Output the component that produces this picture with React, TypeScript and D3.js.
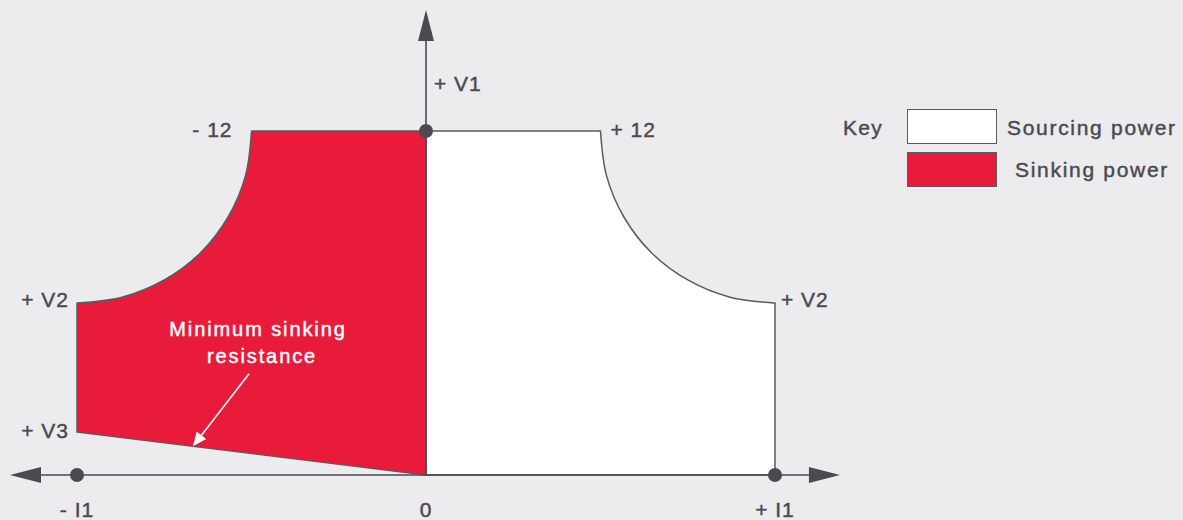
import React, { useEffect } from "react";
import * as d3 from "d3";

// Data (current normalised to I1 = 1, voltage normalised to V1 = 1)
const currentTicks = [
  { label: "- I1", value: -1 },
  { label: "0", value: 0 },
  { label: "+ I1", value: 1 },
];
const V1 = 1.0;
const V2 = 0.5;
const V3 = 0.125;
const cornerCurrent = 0.5; // the "12" corner
// constant-power boundary (|I|, V)
const powerCurveI = [0.5, 0.517, 0.567, 0.646, 0.75, 0.871, 1.0];
const powerCurveV = [1.0, 0.871, 0.75, 0.646, 0.567, 0.517, 0.5];
const legendItems = [
  { label: "Sourcing power", fill: "#ffffff" },
  { label: "Sinking power", fill: "#E81B3A" },
];

const W = 1183;
const H = 520;
const BG = "#ECECEE";
const INK = "#4B4A50";
const RED = "#E81B3A";
const FONT = "'Liberation Sans', Arial, Helvetica, sans-serif";

export default function App() {
  useEffect(() => {
    document.body.style.margin = "0";
    document.body.style.background = BG;
  }, []);

  const x = d3.scaleLinear().domain([-1, 1]).range([77, 775]);
  const y = d3.scaleLinear().domain([0, 1]).range([475, 131]);

  const line = d3.line<[number, number]>().x((d) => x(d[0])).y((d) => y(d[1]));
  const curveLine = d3
    .line<[number, number]>()
    .x((d) => x(d[0]))
    .y((d) => y(d[1]))
    .curve(d3.curveCatmullRom.alpha(0.5));

  const rightCurve: [number, number][] = powerCurveI.map((c, i) => [c, powerCurveV[i]]);
  const leftCurve: [number, number][] = powerCurveI.map((c, i) => [-c, powerCurveV[i]]);

  const sourcingPath =
    line([[0, 0], [0, V1], [cornerCurrent, V1]])! +
    curveLine(rightCurve)!.replace(/^M/, "L") +
    line([[1, V2], [1, 0]])!.replace(/^M/, "L") +
    "Z";
  const sinkingPath =
    line([[0, 0], [0, V1], [-cornerCurrent, V1]])! +
    curveLine(leftCurve)!.replace(/^M/, "L") +
    line([[-1, V2], [-1, V3]])!.replace(/^M/, "L") +
    "Z";

  // axes extents (data units)
  const xMin = -1.192;
  const xMax = 1.186;
  const yMax = 1.352;
  const arrowLen = 31;
  const arrowHalf = 8;

  // annotation arrow
  const annFrom: [number, number] = [-0.507, 0.294];
  const annTo: [number, number] = [-0.668, V3 * 0.668];
  const ax0 = x(annFrom[0]), ay0 = y(annFrom[1]);
  const ax1 = x(annTo[0]), ay1 = y(annTo[1]);
  const ang = Math.atan2(ay1 - ay0, ax1 - ax0);
  const hl = 14, hw = 6;
  const bx = ax1 - hl * Math.cos(ang), by = ay1 - hl * Math.sin(ang);
  const head = [
    [ax1, ay1],
    [bx + hw * Math.sin(ang), by - hw * Math.cos(ang)],
    [bx - hw * Math.sin(ang), by + hw * Math.cos(ang)],
  ];

  const textStyle = {
    fontFamily: FONT,
    fontSize: 21,
    fill: INK,
    stroke: INK,
    strokeWidth: 0.45,
    letterSpacing: 1,
  };
  const whiteText = { ...textStyle, fill: "#ffffff", stroke: "#ffffff", fontSize: 20, letterSpacing: 1.9 };

  return (
    <svg width={W} height={H} style={{ display: "block", background: BG }}>
      <rect x={0} y={0} width={W} height={H} fill={BG} />
      <path d={sinkingPath} fill={RED} stroke="#5A5A60" strokeWidth={1.5} strokeLinejoin="round" />
      <path d={sourcingPath} fill="#ffffff" stroke="#5A5A60" strokeWidth={1.5} strokeLinejoin="round" />

      {/* x axis */}
      <line x1={x(xMin) + arrowLen} x2={x(xMax) - arrowLen} y1={y(0)} y2={y(0)} stroke={INK} strokeWidth={1.6} />
      <path
        d={`M${x(xMin)},${y(0)}L${x(xMin) + arrowLen},${y(0) - arrowHalf}L${x(xMin) + arrowLen},${y(0) + arrowHalf}Z`}
        fill={INK}
      />
      <path
        d={`M${x(xMax)},${y(0)}L${x(xMax) - arrowLen},${y(0) - arrowHalf}L${x(xMax) - arrowLen},${y(0) + arrowHalf}Z`}
        fill={INK}
      />
      {/* y axis */}
      <line x1={x(0)} x2={x(0)} y1={y(0)} y2={y(yMax) + arrowLen} stroke={INK} strokeWidth={1.6} />
      <path
        d={`M${x(0)},${y(yMax)}L${x(0) - arrowHalf},${y(yMax) + arrowLen}L${x(0) + arrowHalf},${y(yMax) + arrowLen}Z`}
        fill={INK}
      />

      {/* dots */}
      <circle cx={x(0)} cy={y(V1)} r={7} fill={INK} />
      <circle cx={x(-1)} cy={y(0)} r={7} fill={INK} />
      <circle cx={x(1)} cy={y(0)} r={7} fill={INK} />

      {/* axis labels */}
      {currentTicks.map((t) => (
        <text key={t.label} x={x(t.value)} y={517} textAnchor="middle" style={textStyle}>
          {t.label}
        </text>
      ))}
      <text x={x(0) + 8} y={y(V1) - 40} style={textStyle}>+ V1</text>
      <text x={x(-cornerCurrent) - 19} y={y(V1) + 6} textAnchor="end" style={textStyle}>- 12</text>
      <text x={x(cornerCurrent) + 10} y={y(V1) + 6} style={textStyle}>+ 12</text>
      <text x={x(-1) - 8} y={y(V2) + 4} textAnchor="end" style={textStyle}>+ V2</text>
      <text x={x(1) + 6} y={y(V2) + 4} style={textStyle}>+ V2</text>
      <text x={x(-1) - 8} y={y(V3) + 6} textAnchor="end" style={textStyle}>+ V3</text>

      {/* annotation */}
      <text x={258} y={336} textAnchor="middle" style={whiteText}>
        Minimum sinking
      </text>
      <text x={262} y={363} textAnchor="middle" style={whiteText}>
        resistance
      </text>
      <line x1={ax0} y1={ay0} x2={bx} y2={by} stroke="#ffffff" strokeWidth={1.6} />
      <path d={`M${head.map((p) => p.join(",")).join("L")}Z`} fill="#ffffff" />

      {/* legend */}
      <text x={843} y={135} style={{ ...textStyle, letterSpacing: 1.3 }}>Key</text>
      {legendItems.map((item, i) => (
        <g key={item.label}>
          <rect x={907.5} y={109.5 + i * 43} width={89} height={34} fill={item.fill} stroke="#5A5A60" strokeWidth={1} />
          <text x={i === 0 ? 1007 : 1015} y={135 + i * 42} style={{ ...textStyle, letterSpacing: 1.7 }}>
            {item.label}
          </text>
        </g>
      ))}
    </svg>
  );
}
